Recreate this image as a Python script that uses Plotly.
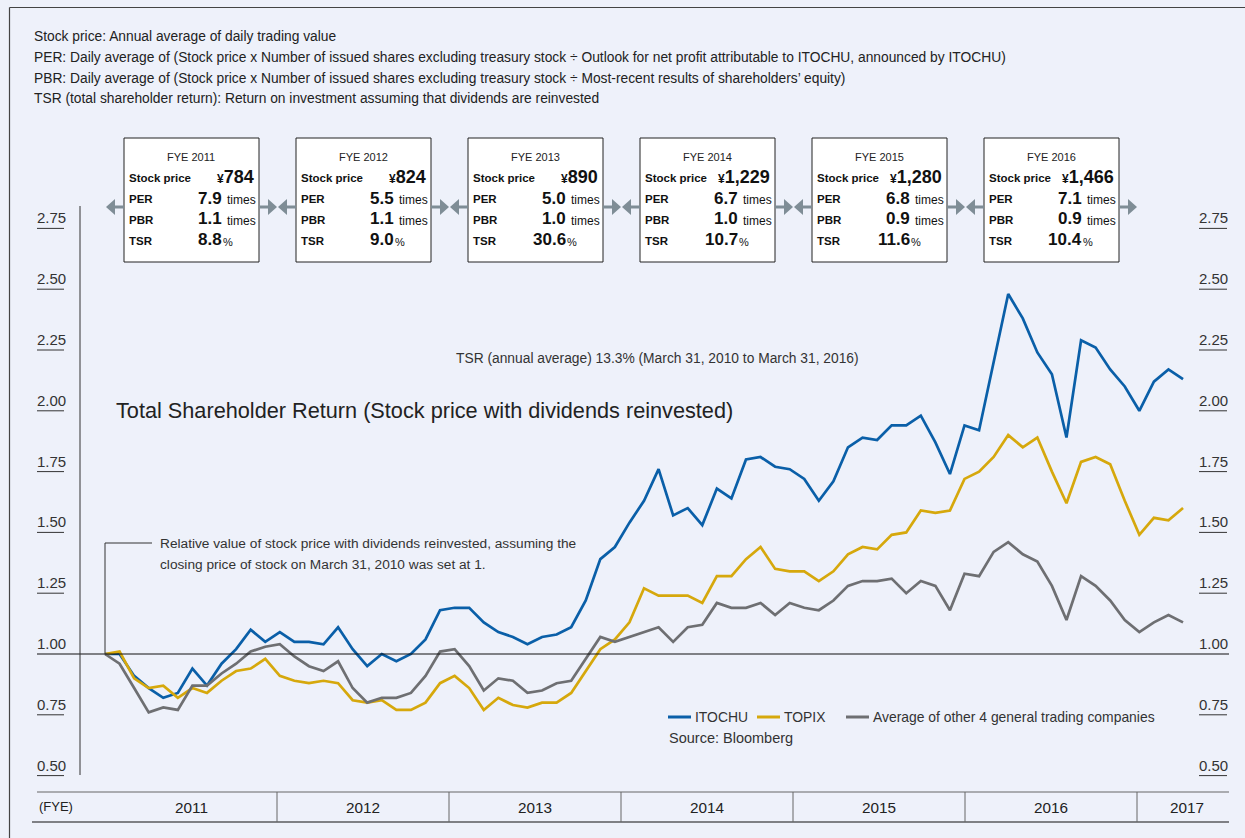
"""
ITOCHU total shareholder return chart
Line chart of relative stock value with dividends reinvested
"""

import plotly.graph_objects as go

# monthly relative values, March 31, 2010 = 1
itochu = [1.00, 1.00, 0.91, 0.86, 0.82, 0.84, 0.94, 0.87, 0.96, 1.02,
          1.10, 1.05, 1.09, 1.05, 1.05, 1.04, 1.11, 1.02, 0.95, 1.00,
          0.97, 1.00, 1.06, 1.18, 1.19, 1.19, 1.13, 1.09, 1.07, 1.04,
          1.07, 1.08, 1.11, 1.22, 1.39, 1.44, 1.54, 1.63, 1.76, 1.57,
          1.60, 1.53, 1.68, 1.64, 1.80, 1.81, 1.77, 1.76, 1.72, 1.63,
          1.71, 1.85, 1.89, 1.88, 1.94, 1.94, 1.98, 1.87, 1.74, 1.94,
          1.92, 2.20, 2.48, 2.38, 2.24, 2.15, 1.89, 2.29, 2.26, 2.17,
          2.10, 2.00, 2.12, 2.17, 2.13]
topix = [1.00, 1.01, 0.90, 0.86, 0.87, 0.82, 0.86, 0.84, 0.89, 0.93,
         0.94, 0.98, 0.91, 0.89, 0.88, 0.89, 0.88, 0.81, 0.80, 0.81,
         0.77, 0.77, 0.80, 0.88, 0.91, 0.86, 0.77, 0.82, 0.79, 0.78,
         0.80, 0.80, 0.84, 0.93, 1.02, 1.06, 1.13, 1.27, 1.24, 1.24,
         1.24, 1.21, 1.32, 1.32, 1.39, 1.44, 1.35, 1.34, 1.34, 1.30,
         1.34, 1.41, 1.44, 1.43, 1.49, 1.50, 1.59, 1.58, 1.59, 1.72,
         1.75, 1.81, 1.90, 1.85, 1.89, 1.75, 1.62, 1.79, 1.81, 1.78,
         1.63, 1.49, 1.56, 1.55, 1.60]
others = [1.00, 0.96, 0.86, 0.76, 0.78, 0.77, 0.87, 0.87, 0.92, 0.96,
          1.01, 1.03, 1.04, 0.99, 0.95, 0.93, 0.97, 0.86, 0.80, 0.82,
          0.82, 0.84, 0.91, 1.01, 1.02, 0.95, 0.85, 0.90, 0.89, 0.84,
          0.85, 0.88, 0.89, 0.98, 1.07, 1.05, 1.07, 1.09, 1.11, 1.05,
          1.11, 1.12, 1.21, 1.19, 1.19, 1.21, 1.16, 1.21, 1.19, 1.18,
          1.22, 1.28, 1.30, 1.30, 1.31, 1.25, 1.30, 1.28, 1.18, 1.33,
          1.32, 1.42, 1.46, 1.41, 1.38, 1.28, 1.14, 1.32, 1.28, 1.22,
          1.14, 1.09, 1.13, 1.16, 1.13]
months = list(range(len(itochu)))

# yearly indicator boxes
fye_labels = ['FYE 2011', 'FYE 2012', 'FYE 2013', 'FYE 2014', 'FYE 2015', 'FYE 2016']
stock_price = ['784', '824', '890', '1,229', '1,280', '1,466']
per = ['7.9', '5.5', '5.0', '6.7', '6.8', '7.1']
pbr = ['1.1', '1.1', '1.0', '1.0', '0.9', '0.9']
tsr = ['8.8', '9.0', '30.6', '10.7', '11.6', '10.4']

years = ['2011', '2012', '2013', '2014', '2015', '2016', '2017']
y_ticks = ['0.50', '0.75', '1.00', '1.25', '1.50', '1.75', '2.00', '2.25', '2.50', '2.75']

series = [('ITOCHU', itochu, '#0a5fa8'),
          ('TOPIX', topix, '#d6a80c'),
          ('Average of other 4 general trading companies', others, '#6e6f72')]

notes = [
    'Stock price: Annual average of daily trading value',
    'PER: Daily average of (Stock price x Number of issued shares excluding treasury stock ÷ Outlook for net profit attributable to ITOCHU, announced by ITOCHU)',
    'PBR: Daily average of (Stock price x Number of issued shares excluding treasury stock ÷ Most-recent results of shareholders\u2019 equity)',
    'TSR (total shareholder return): Return on investment assuming that dividends are reinvested',
]

W, H = 1245, 838
BG = '#eef1fa'
FONT = 'Liberation Sans, Arial, sans-serif'
ARROW = '#7f8d96'

# pixel layout of the plot scale
X0_PX, DX_PX = 105, 14.568   # first month, px per month
Y1_PX, DY_PX = 654, 243.2    # value 1.00, px per unit


def px(x):
    return x / W


def py(y):
    return 1 - y / H


fig = go.Figure()

for name, values, color in series:
    fig.add_trace(go.Scatter(
        x=months,
        y=values,
        mode='lines',
        name=name,
        line=dict(color=color, width=2.7),
        hovertemplate=name + ': %{y:.2f}<extra></extra>'
    ))

shapes = []
annotations = []


def line(x0, y0, x1, y1, color='#333', width=1):
    shapes.append(dict(type='line', xref='paper', yref='paper',
                       x0=px(x0), y0=py(y0), x1=px(x1), y1=py(y1),
                       line=dict(color=color, width=width)))


def text(x, y, s, size=13, color='#222', xanchor='left', yanchor='middle'):
    annotations.append(dict(x=px(x), y=py(y), xref='paper', yref='paper',
                            text=s, showarrow=False, xanchor=xanchor, yanchor=yanchor,
                            font=dict(size=size, color=color, family=FONT),
                            borderpad=0))


# outer frame
line(9.5, 7.5, W, 7.5, '#444', 1.2)
line(9.5, 7.5, 9.5, H, '#444', 1.2)

for i, s in enumerate(notes):
    text(33, 36 + i * 21, s, size=13.8, color='#222')

# boxes with arrows
for k in range(len(fye_labels)):
    left = 124 + 172 * k
    right = left + 135
    shapes.append(dict(type='rect', xref='paper', yref='paper',
                       x0=px(left), x1=px(right), y0=py(262), y1=py(138),
                       fillcolor='white', line=dict(color='#222', width=1)))
    ym = 207
    # left arrow
    shapes.append(dict(type='path', xref='paper', yref='paper',
                       path=f'M {px(left - 18)} {py(ym)} L {px(left - 9)} {py(ym - 8)} '
                            f'L {px(left - 9)} {py(ym + 8)} Z',
                       fillcolor=ARROW, line=dict(width=0)))
    line(left - 10, ym, left, ym, ARROW, 3)
    # right arrow
    shapes.append(dict(type='path', xref='paper', yref='paper',
                       path=f'M {px(right + 18)} {py(ym)} L {px(right + 9)} {py(ym - 8)} '
                            f'L {px(right + 9)} {py(ym + 8)} Z',
                       fillcolor=ARROW, line=dict(width=0)))
    line(right, ym, right + 10, ym, ARROW, 3)

    text(left + 67, 157, fye_labels[k], size=11, color='#222', xanchor='center')
    text(left + 4, 178, '<b>Stock price</b>', size=11.5, color='#111')
    text(left + 4, 199, '<b>PER</b>', size=11.5, color='#111')
    text(left + 4, 220, '<b>PBR</b>', size=11.5, color='#111')
    text(left + 4, 241, '<b>TSR</b>', size=11.5, color='#111')
    text(left + 131, 177, "<b><span style='font-size:12px'>¥</span>" + stock_price[k] + '</b>',
         size=18, color='#111', xanchor='right')
    text(left + 99, 198, '<b>' + per[k] + '</b>', size=17, color='#111', xanchor='right')
    text(left + 99, 219, '<b>' + pbr[k] + '</b>', size=17, color='#111', xanchor='right')
    text(left + 99, 240, '<b>' + tsr[k] + '</b>', size=17, color='#111', xanchor='right')
    text(left + 102, 200, 'times', size=12, color='#111')
    text(left + 102, 221, 'times', size=12, color='#111')
    text(left + 98, 242, '%', size=11, color='#111')

# y tick labels with underlines on both sides
for t in y_ticks:
    yv = Y1_PX - (float(t) - 1) * DY_PX
    text(51, yv - 1, t, size=15, color='#333', xanchor='center', yanchor='bottom')
    text(1213, yv - 1, t, size=15, color='#333', xanchor='center', yanchor='bottom')
    if t != '1.00':
        line(37, yv, 64, yv, '#333', 1)
        line(1199, yv, 1227, yv, '#333', 1)

# baseline at 1.00 and vertical axis
line(37, Y1_PX, 1229, Y1_PX, '#111', 1.2)
line(80, 206, 80, 775, '#333', 1)

# callout
line(105, 543, 105, Y1_PX, '#333', 1)
line(105, 543, 152, 543, '#333', 1)
text(159, 543, 'Relative value of stock price with dividends reinvested, assuming the',
     size=13.7, color='#333')
text(159, 564, 'closing price of stock on March 31, 2010 was set at 1.', size=13.7, color='#333')

text(455, 358, 'TSR (annual average) 13.3% (March 31, 2010 to March 31, 2016)', size=13.8, color='#333')
text(115, 410, 'Total Shareholder Return (Stock price with dividends reinvested)', size=21.7, color='#222')

# legend
legend_x = [668, 757, 846]
for (name, values, color), lx in zip(series, legend_x):
    line(lx, 717, lx + 23, 717, color, 3)
    text(lx + 26, 717, name, size=13.9, color='#333')
text(668, 738, 'Source: Bloomberg', size=14.5, color='#333')

# FYE band at the bottom
line(37, 792, 1229, 792, '#666', 1)
line(32, 822, 1229, 822, '#111', 1.2)
for k in range(1, 7):
    xd = 105 + 172 * k
    line(xd, 792, xd, 822, '#666', 1)
text(38, 806, '(FYE)', size=13, color='#222')
for k, yr in enumerate(years):
    xc = 105 + 172 * k + 86 if k < 6 else 1187
    text(xc, 807, yr, size=15.3, color='#222', xanchor='center')

fig.update_layout(
    width=W,
    height=H,
    margin=dict(l=0, r=0, t=0, b=0),
    paper_bgcolor=BG,
    plot_bgcolor=BG,
    showlegend=False,
    shapes=shapes,
    annotations=annotations,
    font=dict(family=FONT),
)
fig.update_xaxes(visible=False, range=[-X0_PX / DX_PX, (W - X0_PX) / DX_PX])
fig.update_yaxes(visible=False, range=[1 - (H - Y1_PX) / DY_PX, 1 + Y1_PX / DY_PX])

# drop the default page margin so the figure fills the window
fig.write_html("out.html", config={'displayModeBar': False},
               post_script="document.body.style.margin='0';"
                           "document.body.style.overflow='hidden';"
                           "document.body.style.background='" + BG + "';")
